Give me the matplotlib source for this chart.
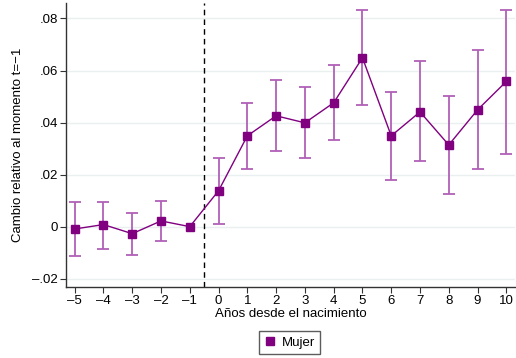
import matplotlib.pyplot as plt
from matplotlib.lines import Line2D

# event time
years = [-5, -4, -3, -2, -1, 0, 1, 2, 3, 4, 5, 6, 7, 8, 9, 10]

# point estimates
coef = [-0.0009, 0.0008, -0.0027, 0.0022, 0.0, 0.0138, 0.0349, 0.0426,
        0.0399, 0.0476, 0.0649, 0.0349, 0.0441, 0.0314, 0.0449, 0.0558]

# confidence intervals
ci_low = [-0.0112, -0.0087, -0.0109, -0.0055, 0.0, 0.0010, 0.0221, 0.0292,
          0.0265, 0.0332, 0.0469, 0.0181, 0.0252, 0.0126, 0.0223, 0.0280]
ci_high = [0.0095, 0.0096, 0.0054, 0.0099, 0.0, 0.0262, 0.0475, 0.0563,
           0.0535, 0.0623, 0.0832, 0.0517, 0.0635, 0.0504, 0.0680, 0.0831]

y_ticks = [-0.02, 0, 0.02, 0.04, 0.06, 0.08]
y_tick_labels = ["\u2013.02", "0", ".02", ".04", ".06", ".08"]

PURPLE = "#800080"
ERR = "#b060b8"

plt.rcParams["font.family"] = ["Liberation Sans", "DejaVu Sans"]

fig = plt.figure(figsize=(5.16, 3.58), dpi=100)
ax = fig.add_axes([0.128, 0.199, 0.87, 0.793])

for y in y_ticks:
    ax.axhline(y, color="#eaf0f0", lw=1.0, zorder=0)

ax.axvline(-0.5, color="black", lw=1.0, ls=(0, (4, 3)), zorder=1)

yerr = [
    [c - lo for c, lo in zip(coef, ci_low)],
    [hi - c for c, hi in zip(coef, ci_high)],
]
sel = [i for i, y in enumerate(years) if y != -1]
ax.errorbar(
    [years[i] for i in sel],
    [coef[i] for i in sel],
    yerr=[[yerr[0][i] for i in sel], [yerr[1][i] for i in sel]],
    fmt="none",
    ecolor=ERR,
    elinewidth=1.3,
    capsize=4.5,
    capthick=1.3,
    zorder=2,
)

ax.plot(
    years,
    coef,
    color=PURPLE,
    lw=1.0,
    marker="s",
    markersize=6,
    zorder=3,
)

ax.set_xlim(-5.3, 10.3)
ax.set_ylim(-0.0231, 0.086)

ax.set_xticks(years)
ax.set_xticklabels([str(y).replace("-", "\u2013") for y in years], fontsize=9.5)
ax.set_yticks(y_ticks)
ax.set_yticklabels(y_tick_labels, fontsize=9.5)

for side in ["top", "right"]:
    ax.spines[side].set_visible(False)
for side in ["left", "bottom"]:
    ax.spines[side].set_color("#333333")
    ax.spines[side].set_linewidth(1.0)
ax.tick_params(axis="both", direction="out", length=4, color="#333333",
               pad=2)

ax.set_xlabel("Años desde el nacimiento", fontsize=9.5, labelpad=1)
ax.set_ylabel("Cambio relativo al momento t=\u22121", fontsize=9.5,
              labelpad=6)

handle = Line2D([], [], color=PURPLE, marker="s", ls="none", markersize=6)
fig.legend(
    [handle],
    ["Mujer"],
    loc="center",
    bbox_to_anchor=(0.561, 0.043),
    fontsize=9.5,
    frameon=True,
    fancybox=False,
    edgecolor="#333333",
    handlelength=0.8,
    handletextpad=0.5,
    borderpad=0.4,
)

fig.savefig("out.png", dpi=100)
